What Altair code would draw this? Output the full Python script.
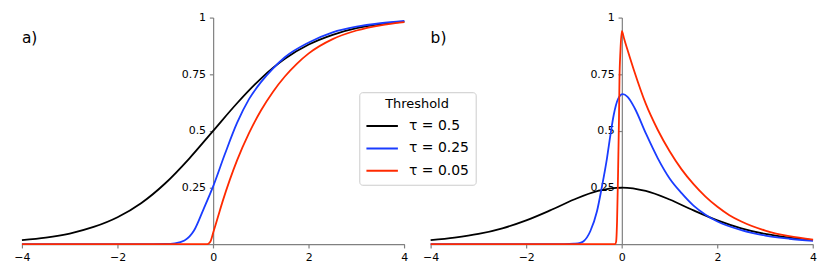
import altair as alt
import pandas as pd

series = ["τ = 0.5", "τ = 0.25", "τ = 0.05"]
colors = ["#000000", "#1a3cff", "#ff2a00"]

# ---- panel a (cumulative) ----
a_black_x = [-4, -3.5, -3, -2.5, -2, -1.5, -1, -0.5, 0, 0.5, 1, 1.5, 2, 2.5, 3, 3.5, 4]
a_black_y = [0.018, 0.029, 0.047, 0.076, 0.119, 0.182, 0.269, 0.378, 0.5, 0.622, 0.731,
             0.818, 0.881, 0.924, 0.953, 0.971, 0.982]

a_blue_x = [-4, -1.5, -1, -0.8, -0.6, -0.4, -0.2, 0, 0.25, 0.5, 0.75, 1, 1.25, 1.5, 2, 2.5, 3, 3.5, 4]
a_blue_y = [0, 0, 0.001, 0.004, 0.016, 0.06, 0.155, 0.255, 0.40, 0.535, 0.64, 0.715, 0.775,
            0.825, 0.89, 0.935, 0.96, 0.975, 0.985]

a_red_x = [-4, -0.14, -0.1, -0.05, 0, 0.1, 0.2, 0.35, 0.5, 0.75, 1, 1.25, 1.5, 1.75, 2, 2.5, 3, 3.5, 4]
a_red_y = [0, 0, 0.002, 0.015, 0.05, 0.12, 0.19, 0.285, 0.37, 0.49, 0.59, 0.672, 0.740,
           0.796, 0.842, 0.905, 0.943, 0.966, 0.98]

# ---- panel b (density) ----
b_black_x = [-4, -3.5, -3, -2.5, -2, -1.5, -1, -0.5, 0, 0.5, 1, 1.5, 2, 2.5, 3, 3.5, 4]
b_black_y = [0.018, 0.029, 0.045, 0.070, 0.105, 0.149, 0.197, 0.235, 0.25, 0.235, 0.197,
             0.149, 0.105, 0.070, 0.045, 0.029, 0.018]

b_blue_x = [-4, -1.2, -1, -0.87, -0.8, -0.66, -0.52, -0.42, -0.31, -0.24, -0.17, -0.08, 0.02,
            0.12, 0.27, 0.5, 0.75, 1, 1.25, 1.5, 1.75, 2, 2.5, 3, 3.5, 4]
b_blue_y = [0, 0, 0.002, 0.006, 0.013, 0.057, 0.145, 0.25, 0.38, 0.48, 0.57, 0.64, 0.662,
            0.65, 0.60, 0.49, 0.38, 0.29, 0.225, 0.17, 0.13, 0.10, 0.062, 0.038, 0.024, 0.015]

b_red_x = [-4, -0.14, -0.12, -0.1, -0.08, -0.06, -0.05, -0.03, 0, 0.05, 0.1, 0.25, 0.5, 0.75,
           1, 1.25, 1.5, 1.75, 2, 2.25, 2.5, 3, 3.5, 4]
b_red_y = [0, 0, 0.01, 0.1, 0.3, 0.55, 0.72, 0.85, 0.94, 0.905, 0.87, 0.77, 0.62, 0.505,
           0.41, 0.33, 0.265, 0.21, 0.165, 0.128, 0.10, 0.06, 0.035, 0.02]

x_ticks = [-4, -2, 0, 2, 4]
y_ticks = [0.25, 0.5, 0.75, 1]
panel_labels = ["a)", "b)"]


def frame(xs, ys, name):
    return pd.DataFrame({"x": xs, "y": ys, "series": name})


df_a = pd.concat([frame(a_black_x, a_black_y, series[0]),
                  frame(a_blue_x, a_blue_y, series[1]),
                  frame(a_red_x, a_red_y, series[2])], ignore_index=True)
df_b = pd.concat([frame(b_black_x, b_black_y, series[0]),
                  frame(b_blue_x, b_blue_y, series[1]),
                  frame(b_red_x, b_red_y, series[2])], ignore_index=True)

W, H = 384.3, 227.7

X = alt.X("x:Q", scale=alt.Scale(domain=[-4, 4], nice=False, zero=False),
          axis=alt.Axis(values=x_ticks, title=None, labelFlush=False))
Y = alt.Y("y:Q", scale=alt.Scale(domain=[0, 1], nice=False),
          axis=alt.Axis(values=y_ticks, format=".2~f", title=None, offset=-W / 2))

legend = alt.Legend(
    title="Threshold", orient="none", legendX=339, legendY=75,
    symbolType="stroke", symbolSize=1000, symbolStrokeWidth=2,
    clipHeight=16, rowPadding=6.5, labelFontSize=14, labelFont="DejaVu Sans",
    labelColor="black", titleFontSize=13, titleFont="DejaVu Sans",
    titleFontWeight="normal", titleColor="black", titleAnchor="middle",
    fillColor="white", strokeColor="#cccccc", padding=6, cornerRadius=3,
    labelOffset=10, titlePadding=7,
)


def panel(df, label):
    lines = alt.Chart(df).mark_line(strokeWidth=1.8, interpolate="monotone").encode(
        x=X, y=Y,
        color=alt.Color("series:N", scale=alt.Scale(domain=series, range=colors),
                        sort=series, legend=legend),
    )
    txt = alt.Chart(pd.DataFrame({"x": [-4], "y": [0.89], "t": [label]})).mark_text(
        align="left", baseline="alphabetic", fontSize=15.5, font="DejaVu Sans", color="black"
    ).encode(x=X, y=Y, text="t:N")
    return alt.layer(lines, txt).properties(width=W, height=H)


chart = alt.hconcat(panel(df_a, panel_labels[0]), panel(df_b, panel_labels[1]), spacing=13.7)
chart = chart.resolve_scale(color="shared").properties(
    padding={"left": 5, "top": 3, "right": 5, "bottom": 5}
).configure_view(strokeWidth=0).configure_axis(
    grid=False, domainColor="#808080", tickColor="#808080", domainWidth=1.2, tickWidth=1.2,
    labelColor="black", labelFont="DejaVu Sans", labelFontSize=11, tickSize=3.8,
    labelPadding=3.8,
)

chart.save("out.html", embed_options={"renderer": "svg", "actions": False})
